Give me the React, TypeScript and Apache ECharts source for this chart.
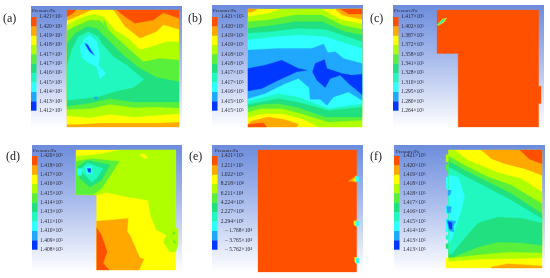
import React, { useEffect, useRef } from "react";
import * as echarts from "echarts";

// Contour band palette, high pressure to low pressure
const bandColors = ["#ff5000", "#ffa800", "#ffff00", "#b0ff00", "#58f03a", "#20e080", "#20f8c0", "#30ffff", "#20a8ff", "#0038ff"];
const R = 0, O = 1, Y = 2, L = 3, G = 4, S = 5, A = 6, C = 7, B = 8, D = 9;

type Layer = [number, number[][]];

const ticksA = ["1.421×10⁵", "1.420×10⁵", "1.419×10⁵", "1.418×10⁵", "1.417×10⁵", "1.417×10⁵", "1.416×10⁵", "1.415×10⁵", "1.414×10⁵", "1.413×10⁵", "1.412×10⁵"];
const ticksB = ["1.421×10⁵", "1.420×10⁵", "1.419×10⁵", "1.419×10⁵", "1.418×10⁵", "1.418×10⁵", "1.417×10⁵", "1.417×10⁵", "1.416×10⁵", "1.415×10⁵", "1.415×10⁵"];
const ticksC = ["1.417×10⁵", "1.402×10⁵", "1.387×10⁵", "1.372×10⁵", "1.358×10⁵", "1.341×10⁵", "1.328×10⁵", "1.310×10⁵", "1.295×10⁵", "1.280×10⁵", "1.264×10⁵"];
const ticksD = ["1.420×10⁵", "1.418×10⁵", "1.417×10⁵", "1.416×10⁵", "1.415×10⁵", "1.414×10⁵", "1.413×10⁵", "1.411×10⁵", "1.410×10⁵", "1.409×10⁵", "1.408×10⁵"];
const ticksE = ["1.421×10⁵", "1.211×10⁵", "1.022×10⁵", "8.218×10⁴", "6.211×10⁴", "4.224×10⁴", "2.227×10⁴", "2.294×10²", "− 1.768×10⁴", "− 3.765×10⁴", "− 5.762×10⁴"];
const ticksF = ["1.421×10⁵", "1.420×10⁵", "1.419×10⁵", "1.418×10⁵", "1.418×10⁵", "1.417×10⁵", "1.416×10⁵", "1.415×10⁵", "1.414×10⁵", "1.413×10⁵", "1.413×10⁵"];

// Contour bands: each one is [band, outline in mesh coordinates], painted in order
const bandsA: Layer[] = [
  [O, [[201, 30], [537, 30], [537, 380], [201, 380]]],
  [R, [[201, 30], [228, 30], [215, 42], [201, 50]]],
  [R, [[350, 30], [537, 30], [537, 55], [490, 38], [460, 60], [405, 70], [375, 50]]],
  [Y, [[201, 62], [230, 50], [275, 30], [340, 30], [375, 80], [420, 115], [470, 95], [490, 75], [537, 88], [537, 365], [470, 368], [380, 368], [300, 368], [240, 372], [201, 372]]],
  [L, [[201, 75], [240, 55], [280, 42], [310, 50], [345, 90], [385, 115], [420, 150], [470, 135], [500, 125], [537, 125], [537, 340], [470, 345], [400, 350], [330, 342], [270, 352], [201, 346]]],
  [G, [[201, 92], [235, 75], [270, 60], [300, 62], [340, 105], [390, 150], [430, 185], [480, 175], [537, 180], [537, 323], [470, 320], [400, 322], [330, 312], [270, 325], [201, 328]]],
  [S, [[201, 130], [225, 100], [260, 80], [290, 85], [320, 115], [370, 165], [420, 205], [470, 232], [537, 245], [537, 305], [470, 305], [400, 305], [330, 295], [270, 308], [201, 318]]],
  [A, [[201, 195], [215, 150], [235, 110], [265, 95], [295, 110], [305, 130], [340, 170], [380, 195], [432, 238], [400, 262], [350, 272], [300, 288], [250, 295], [201, 300]]],
  [C, [[240, 140], [255, 115], [270, 105], [290, 125], [300, 165], [295, 195], [318, 220], [300, 235], [290, 200], [260, 185], [245, 170]]],
  [B, [[253, 128], [263, 132], [285, 167], [268, 156]]],
  [D, [[256, 132], [262, 135], [280, 163], [268, 152]]],
  [G, [[311, 60], [316, 66], [323, 86], [314, 76]]],
  [B, [[284, 290], [292, 290], [292, 297], [284, 297]]],
];

const bandsB: Layer[] = [
  [Y, [[189, 27], [530, 27], [530, 380], [189, 380]]],
  [O, [[450, 27], [530, 27], [530, 58], [490, 50], [470, 45]]],
  [R, [[465, 27], [530, 27], [530, 42], [490, 42]]],
  [O, [[189, 27], [218, 27], [200, 37], [189, 37]]],
  [O, [[189, 372], [200, 362], [250, 350], [300, 358], [340, 372], [335, 380], [189, 380]]],
  [R, [[189, 372], [235, 367], [245, 380], [189, 380]]],
  [L, [[189, 50], [250, 40], [290, 27], [410, 27], [440, 45], [470, 60], [530, 72], [530, 380], [400, 380], [350, 355], [290, 340], [230, 340], [189, 352]]],
  [G, [[189, 65], [250, 60], [330, 45], [410, 45], [470, 75], [530, 88], [530, 360], [430, 365], [350, 340], [290, 325], [230, 325], [189, 335]]],
  [S, [[189, 85], [250, 78], [330, 65], [410, 65], [480, 95], [530, 105], [530, 350], [420, 350], [340, 322], [280, 310], [230, 312], [189, 322]]],
  [A, [[189, 100], [260, 95], [340, 85], [420, 88], [530, 125], [530, 320], [430, 330], [340, 305], [280, 295], [189, 312]]],
  [C, [[189, 120], [270, 110], [340, 105], [420, 110], [530, 145], [530, 310], [430, 325], [340, 290], [280, 280], [189, 303]]],
  [B, [[189, 150], [280, 145], [380, 145], [415, 132], [428, 158], [450, 155], [475, 175], [530, 190], [530, 300], [490, 275], [445, 290], [425, 315], [405, 297], [375, 297], [372, 262], [340, 235], [300, 250], [240, 280], [189, 295]]],
  [D, [[189, 205], [240, 195], [290, 180], [340, 205], [365, 210], [335, 215], [280, 240], [230, 265], [189, 272]]],
  [D, [[382, 215], [390, 190], [418, 178], [425, 205], [470, 220], [500, 225], [530, 222], [530, 283], [490, 250], [465, 225], [435, 235], [420, 262], [395, 240]]],
];

const bandsC: Layer[] = [
  [R, [[217, 30], [520, 30], [520, 258], [527, 258], [527, 310], [520, 310], [520, 380], [280, 380], [280, 160], [217, 160]]],
  [Y, [[218, 74], [232, 58], [246, 54], [238, 66], [222, 76]]],
  [S, [[220, 72], [232, 60], [241, 58], [234, 66], [223, 74]]],
  [C, [[222, 71], [232, 63], [236, 62], [230, 67], [224, 72]]],
];

const bandsD: Layer[] = [
  [Y, [[228, 44], [528, 44], [528, 280], [535, 280], [535, 330], [528, 330], [528, 405], [290, 405], [290, 178], [228, 178]]],
  [L, [[228, 62], [290, 58], [360, 44], [528, 44], [528, 280], [535, 280], [535, 330], [528, 350], [510, 350], [490, 320], [500, 300], [470, 285], [452, 240], [445, 195], [380, 185], [320, 172], [290, 180], [228, 178]]],
  [Y, [[418, 55], [435, 57], [445, 70], [430, 68]]],
  [O, [[290, 258], [385, 250], [382, 290], [390, 300], [420, 368], [432, 372], [418, 405], [325, 405], [310, 385], [322, 350], [305, 300], [290, 278]]],
  [R, [[290, 278], [305, 300], [322, 350], [310, 385], [328, 405], [290, 405]]],
  [G, [[228, 78], [275, 70], [358, 78], [335, 115], [305, 160], [280, 178], [228, 178]]],
  [S, [[232, 95], [262, 75], [330, 88], [305, 135], [270, 155], [240, 130]]],
  [A, [[240, 105], [262, 82], [310, 100], [290, 130], [275, 140], [255, 120]]],
  [C, [[232, 100], [245, 100], [245, 120], [232, 120]]],
  [C, [[255, 95], [275, 92], [278, 115], [262, 118]]],
  [D, [[262, 100], [272, 100], [272, 112], [265, 110]]],
  [G, [[520, 288], [527, 295], [520, 300]]],
  [G, [[520, 313], [530, 325], [522, 323]]],
];

const bandsE: Layer[] = [
  [R, [[220, 44], [515, 44], [515, 411], [220, 411]]],
  [O, [[490, 138], [515, 120], [515, 140]]],
  [Y, [[505, 135], [515, 123], [515, 140]]],
  [C, [[512, 122], [522, 125], [522, 138], [512, 140]]],
  [Y, [[506, 258], [515, 256], [515, 274], [508, 270]]],
  [C, [[511, 258], [522, 259], [522, 271], [513, 273]]],
  [Y, [[508, 368], [515, 366], [515, 386], [510, 382]]],
  [C, [[512, 369], [522, 370], [522, 384], [514, 385]]],
];

const bandsF: Layer[] = [
  [L, [[244, 58], [252, 58], [252, 80], [244, 80]]],
  [G, [[244, 88], [252, 88], [252, 105], [244, 105]]],
  [C, [[244, 125], [252, 125], [252, 160], [244, 160]]],
  [C, [[244, 210], [252, 210], [252, 235], [244, 235]]],
  [C, [[244, 250], [252, 250], [252, 290], [244, 290]]],
  [A, [[244, 300], [252, 300], [252, 312], [244, 312]]],
  [S, [[244, 325], [252, 325], [252, 340], [244, 340]]],
  [Y, [[244, 368], [252, 368], [252, 398], [244, 398]]],
  [Y, [[252, 44], [532, 44], [532, 398], [252, 398]]],
  [O, [[350, 44], [532, 44], [532, 120], [480, 100], [420, 85], [380, 70]]],
  [R, [[465, 44], [532, 44], [532, 85], [495, 72]]],
  [O, [[380, 395], [430, 385], [532, 392], [532, 398], [380, 398]]],
  [L, [[252, 44], [270, 44], [310, 75], [400, 112], [470, 130], [532, 170], [532, 368], [430, 370], [340, 372], [252, 378]]],
  [G, [[252, 62], [300, 90], [370, 125], [440, 150], [532, 205], [532, 352], [430, 350], [340, 358], [252, 368]]],
  [S, [[252, 78], [300, 105], [370, 140], [440, 175], [532, 235], [532, 330], [470, 322], [400, 320], [340, 335], [265, 365], [252, 365]]],
  [A, [[252, 95], [300, 122], [370, 158], [440, 195], [532, 250], [532, 262], [470, 248], [400, 245], [340, 262], [290, 320], [262, 355], [252, 355]]],
  [C, [[252, 120], [280, 125], [290, 150], [300, 185], [290, 225], [275, 270], [262, 310], [252, 325]]],
  [B, [[250, 165], [260, 165], [256, 180], [250, 180]]],
  [B, [[246, 212], [260, 214], [258, 232], [248, 232]]],
  [B, [[246, 254], [274, 258], [266, 272], [268, 290], [254, 286]]],
  [D, [[250, 258], [262, 262], [262, 282], [254, 280]]],
];

const panels = [
  { letter: "(a)", letterX: 3, letterY: 18, ticks: ticksA, bands: bandsA, bg: [31, 6, 151, 122], bar: [31, 17], tx: 39.3, titleX: 32, titleY: 10, px: [67, 10, 112, 117], xr: [201, 537], yr: [30, 380] },
  { letter: "(b)", letterX: 188, letterY: 18, ticks: ticksB, bands: bandsB, bg: [212, 5, 151, 123], bar: [212, 17], tx: 220.7, titleX: 213, titleY: 10, px: [248, 9, 114, 118], xr: [189, 530], yr: [27, 380] },
  { letter: "(c)", letterX: 370, letterY: 18, ticks: ticksC, bands: bandsC, bg: [393, 5, 151, 123], bar: [393, 17], tx: 401, titleX: 394, titleY: 10, px: [437, 10, 104, 117], xr: [217, 527], yr: [30, 380] },
  { letter: "(d)", letterX: 6, letterY: 156, ticks: ticksD, bands: bandsD, bg: [32, 145, 150, 127], bar: [32, 156], tx: 40, titleX: 33, titleY: 150, px: [76, 150, 102, 120], xr: [228, 535], yr: [44, 405] },
  { letter: "(e)", letterX: 189, letterY: 156, ticks: ticksE, bands: bandsE, bg: [212, 145, 151, 127], bar: [212, 156], tx: 220.7, titleX: 215, titleY: 150, px: [258, 150, 101, 122], xr: [220, 522], yr: [44, 411] },
  { letter: "(f)", letterX: 370, letterY: 156, ticks: ticksF, bands: bandsF, bg: [394, 145, 151, 127], bar: [394, 156], tx: 402.7, titleX: 396, titleY: 151, px: [446, 150, 96, 118], xr: [244, 532], yr: [44, 398] },
];

const serif = "'Liberation Serif', serif";

function buildOption() {
  const graphic: any[] = [];
  const grid: any[] = [];
  const xAxis: any[] = [];
  const yAxis: any[] = [];
  const series: any[] = [];
  panels.forEach((p, i) => {
    const [bx, by, bw, bh] = p.bg;
    graphic.push({
      type: "rect", z: -10, silent: true,
      shape: { x: bx, y: by, width: bw, height: bh },
      style: { fill: { type: "linear", x: 0, y: 0, x2: 0, y2: 1, colorStops: [{ offset: 0, color: "#6c8cdc" }, { offset: 0.45, color: "#a9bcec" }, { offset: 1, color: "#ffffff" }] } },
    });
    const step = 9.37;
    bandColors.forEach((c, k) => {
      graphic.push({ type: "rect", silent: true, shape: { x: p.bar[0], y: p.bar[1] + k * step, width: 5.5, height: step }, style: { fill: c } });
    });
    p.ticks.forEach((t, k) => {
      graphic.push({
        type: "text", silent: true, x: p.tx + (t.startsWith("−") ? 4 : 0), y: p.bar[1] + k * step - 0.8,
        style: { text: t, fill: "#2a2a3a", font: `5.5px ${serif}`, textVerticalAlign: "middle" },
      });
    });
    graphic.push({ type: "text", silent: true, x: p.titleX, y: p.titleY, style: { text: "Pressure/Pa", fill: "#2a2a3a", font: `5px ${serif}`, textVerticalAlign: "middle" } });
    graphic.push({ type: "text", silent: true, x: p.letterX, y: p.letterY, style: { text: p.letter, fill: "#222", font: `12px ${serif}`, textVerticalAlign: "middle" } });

    const [gx, gy, gw, gh] = p.px;
    grid.push({ left: gx, top: gy, width: gw, height: gh, show: false });
    xAxis.push({ type: "value", gridIndex: i, min: p.xr[0], max: p.xr[1], show: false });
    yAxis.push({ type: "value", gridIndex: i, min: p.yr[0], max: p.yr[1], inverse: true, show: false });
    series.push({
      type: "custom",
      coordinateSystem: "cartesian2d",
      xAxisIndex: i,
      yAxisIndex: i,
      silent: true,
      clip: false,
      data: p.bands.map((b, k) => [b[1][0][0], b[1][0][1], k]),
      renderItem: (params: any, api: any) => {
        const [band, outline] = p.bands[params.dataIndex];
        return {
          type: "polygon",
          shape: { points: outline.map((pt) => api.coord(pt)) },
          style: { fill: bandColors[band], stroke: bandColors[band], lineWidth: 0.3 },
        };
      },
    });
  });
  return { animation: false, backgroundColor: "#ffffff", graphic, grid, xAxis, yAxis, series };
}

export default function App() {
  const ref = useRef<HTMLDivElement>(null);
  useEffect(() => {
    const chart = echarts.init(ref.current!, undefined, { renderer: "svg" });
    chart.setOption(buildOption());
    return () => chart.dispose();
  }, []);
  return <div ref={ref} style={{ position: "fixed", left: 0, top: 0, width: 550, height: 278, filter: "blur(0.35px)" }} />;
}
